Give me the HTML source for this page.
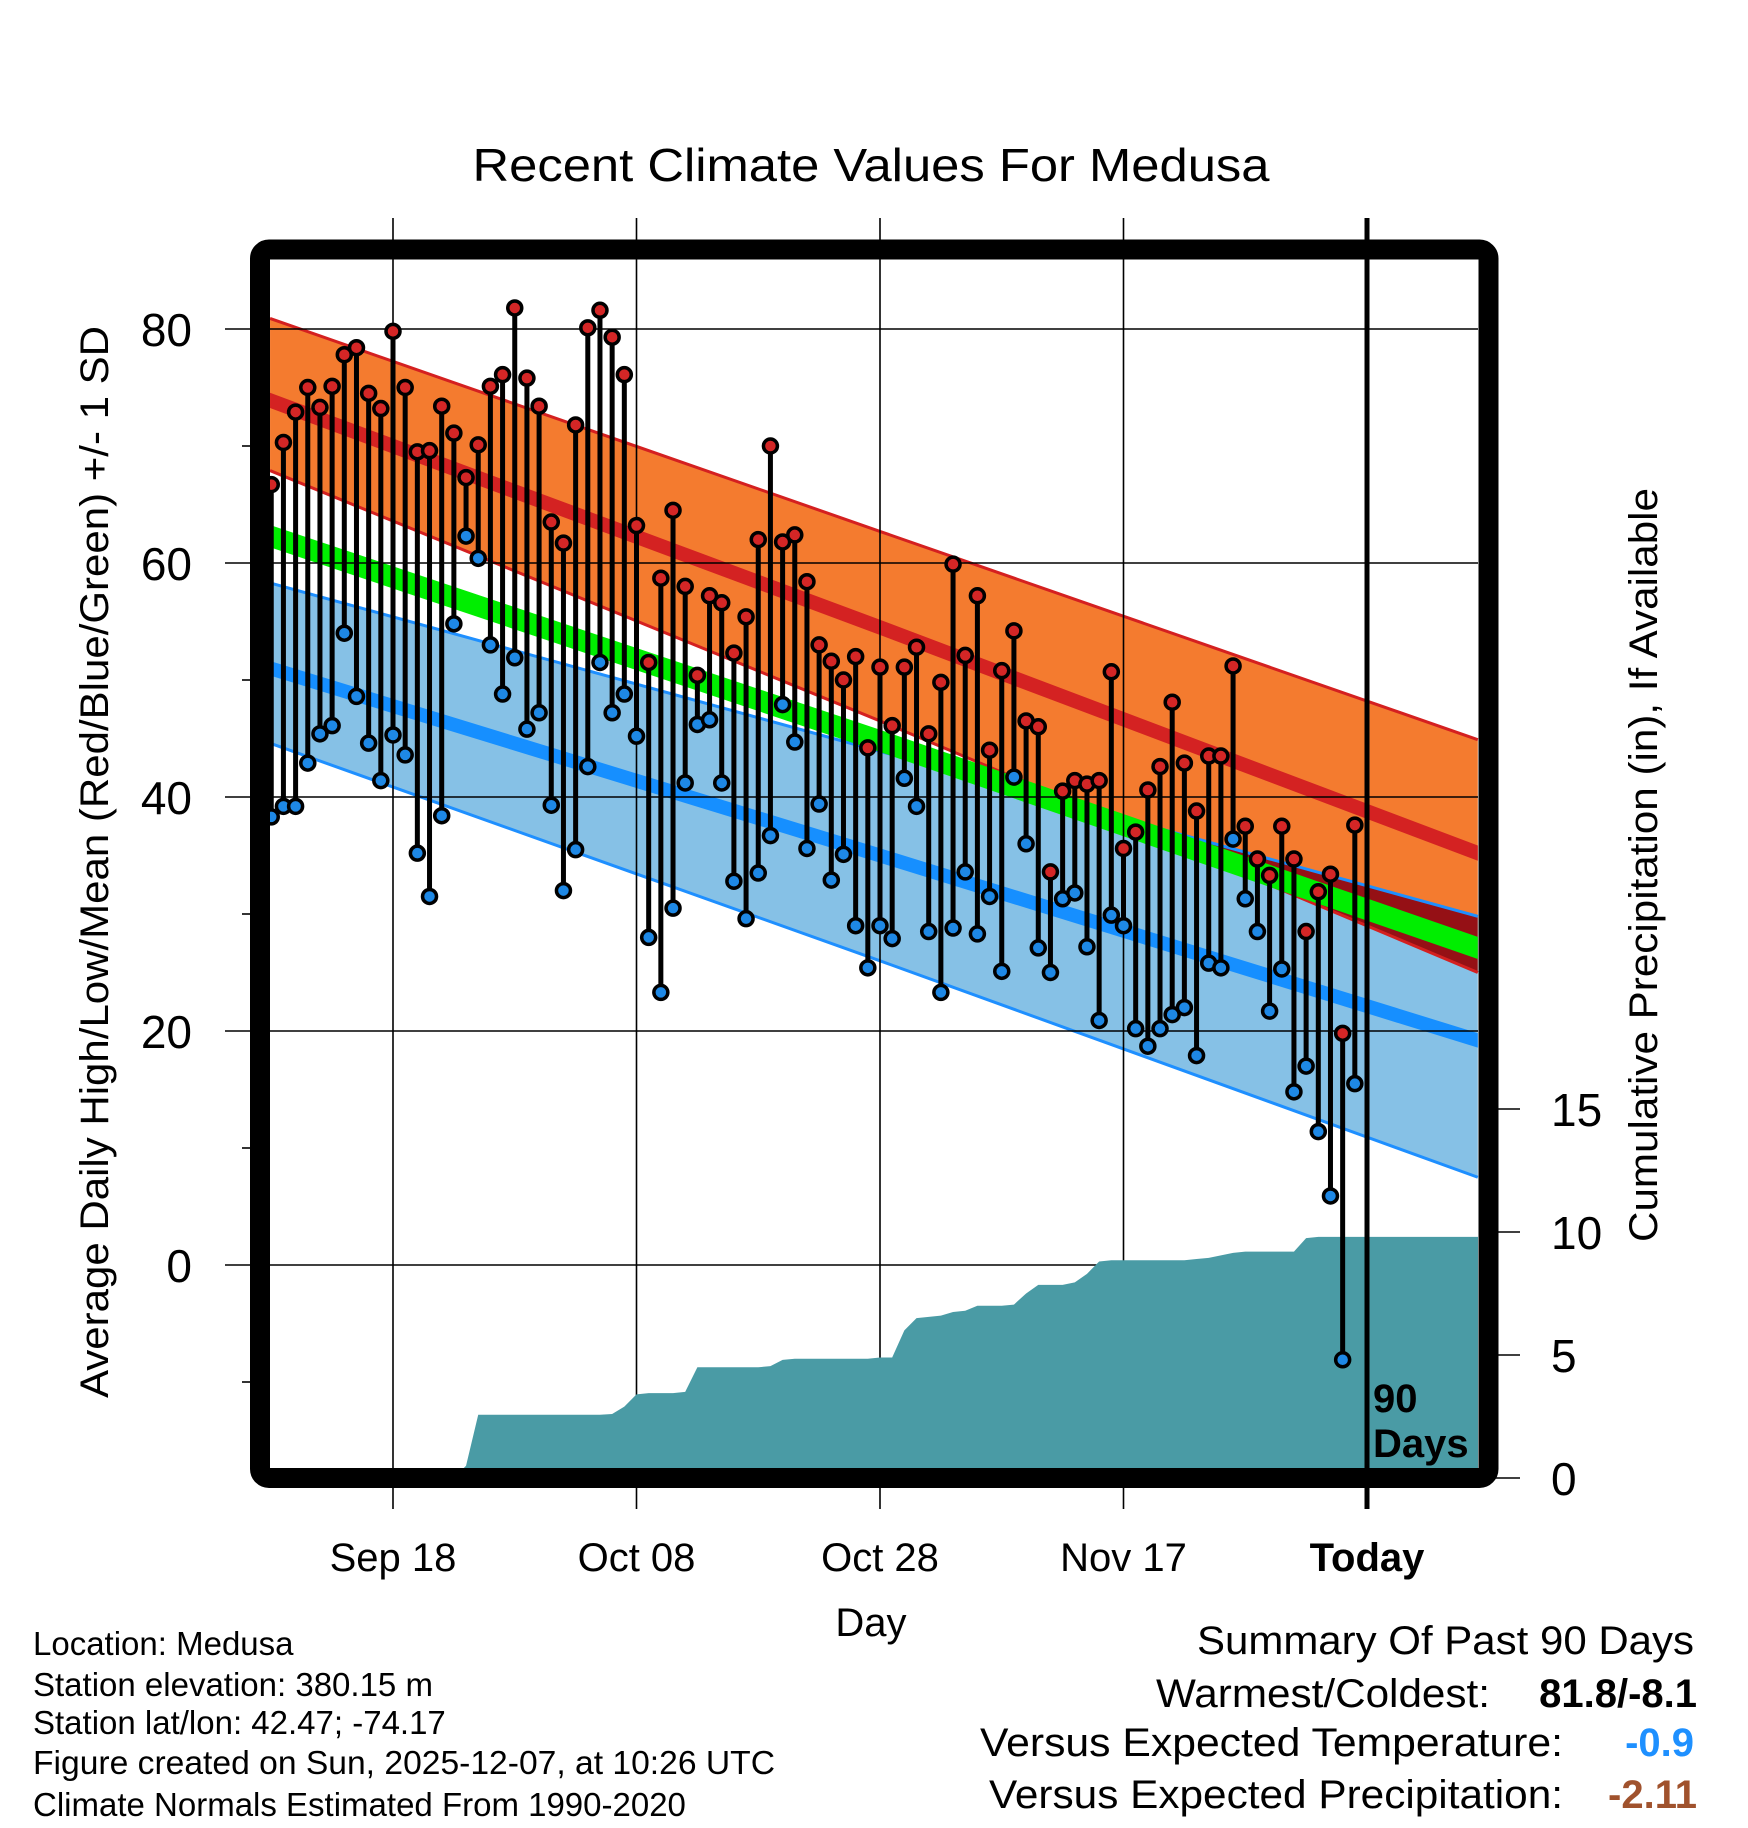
<!DOCTYPE html>
<html><head><meta charset="utf-8"><style>
html,body{margin:0;padding:0;background:#fff;}
svg{display:block;font-family:"Liberation Sans",sans-serif;}
</style></head><body>
<svg id="chart" width="1748" height="1828" viewBox="0 0 1748 1828" xmlns="http://www.w3.org/2000/svg">
<g id="bands"></g>
<g id="grid"></g>
<g id="precip"></g>
<g id="marks"></g>
<g id="axes"></g>
<text x="871" y="181" font-size="46" text-anchor="middle" textLength="797" lengthAdjust="spacingAndGlyphs">Recent Climate Values For Medusa</text>
<text transform="translate(108,862) rotate(-90)" font-size="40" text-anchor="middle" textLength="1072" lengthAdjust="spacingAndGlyphs">Average Daily High/Low/Mean (Red/Blue/Green) +/- 1 SD</text>
<text transform="translate(1657,865) rotate(-90)" font-size="40" text-anchor="middle" textLength="754" lengthAdjust="spacingAndGlyphs">Cumulative Precipitation (in), If Available</text>
<text x="871" y="1636" font-size="40" text-anchor="middle">Day</text>
<text x="1373" y="1412" font-size="40" font-weight="bold">90</text>
<text x="1373" y="1457" font-size="40" font-weight="bold">Days</text>
<g font-size="33">
<text x="33" y="1655">Location: Medusa</text>
<text x="33" y="1696">Station elevation: 380.15 m</text>
<text x="33" y="1734">Station lat/lon: 42.47; -74.17</text>
<text x="33" y="1774" textLength="742" lengthAdjust="spacingAndGlyphs">Figure created on Sun, 2025-12-07, at 10:26 UTC</text>
<text x="33" y="1816">Climate Normals Estimated From 1990-2020</text>
</g>
<g font-size="40">
<text x="1694" y="1654" text-anchor="end" textLength="497" lengthAdjust="spacingAndGlyphs">Summary Of Past 90 Days</text>
<text x="1490" y="1707" text-anchor="end" textLength="334" lengthAdjust="spacingAndGlyphs">Warmest/Coldest:</text>
<text x="1697" y="1707" text-anchor="end" font-weight="bold">81.8/-8.1</text>
<text x="1563" y="1756" text-anchor="end" textLength="583" lengthAdjust="spacingAndGlyphs">Versus Expected Temperature:</text>
<text x="1694" y="1756" text-anchor="end" font-weight="bold" fill="#1e90ff">-0.9</text>
<text x="1563" y="1808" text-anchor="end" textLength="574" lengthAdjust="spacingAndGlyphs">Versus Expected Precipitation:</text>
<text x="1697" y="1808" text-anchor="end" font-weight="bold" fill="#a0522d">-2.11</text>
</g>
</svg>
<script>
const highs=[66.7,70.3,72.9,75,73.3,75.1,77.8,78.4,74.5,73.2,79.8,75,69.5,69.6,73.4,71.1,67.3,70.1,75.1,76.1,81.8,75.8,73.4,63.5,61.7,71.8,80.1,81.6,79.3,76.1,63.2,51.5,58.7,64.5,58,50.4,57.2,56.6,52.3,55.4,62,70,61.8,62.4,58.4,53,51.6,50,52,44.2,51.1,46.1,51.1,52.8,45.4,49.8,59.9,52.1,57.2,44,50.8,54.2,46.5,46,33.6,40.5,41.4,41.1,41.4,50.7,35.6,37,40.6,42.6,48.1,42.9,38.8,43.5,43.5,51.2,37.5,34.7,33.3,37.5,34.7,28.5,31.9,33.4,19.8,37.6];
const lows=[38.3,39.2,39.2,42.9,45.4,46.1,54,48.6,44.6,41.4,45.3,43.6,35.2,31.5,38.4,54.8,62.3,60.4,53,48.8,51.9,45.8,47.2,39.3,32,35.5,42.6,51.5,47.2,48.8,45.2,28,23.3,30.5,41.2,46.2,46.6,41.2,32.8,29.6,33.5,36.7,47.9,44.7,35.6,39.4,32.9,35.1,29,25.4,29,27.9,41.6,39.2,28.5,23.3,28.8,33.6,28.3,31.5,25.1,41.7,36,27.1,25,31.3,31.8,27.2,20.9,29.9,29,20.2,18.7,20.2,21.4,22,17.9,25.8,25.4,36.4,31.3,28.5,21.7,25.3,14.8,17,11.4,5.9,-8.1,15.5];
const precip=[0,0,0,0,0,0,0,0,0,0,0,0,0,0,0,0,0.5,2.57,2.57,2.57,2.57,2.57,2.57,2.57,2.57,2.57,2.57,2.57,2.6,2.9,3.4,3.45,3.45,3.45,3.5,4.5,4.5,4.5,4.5,4.5,4.5,4.55,4.8,4.85,4.85,4.85,4.85,4.85,4.85,4.85,4.9,4.9,6.0,6.5,6.55,6.6,6.75,6.8,7.0,7.0,7.0,7.05,7.5,7.85,7.85,7.85,7.95,8.3,8.8,8.85,8.85,8.85,8.85,8.85,8.85,8.85,8.9,8.95,9.05,9.15,9.2,9.2,9.2,9.2,9.2,9.75,9.8,9.8,9.8,9.8];
const normDays=[-0.1,50,99.1];
const highPlusSD=[80.9,62.7,44.9];
const highMean=[73.9,54.5,35.2];
const highMinusSD=[67.9,46.5,25.0];
const meanTemp=[62.3,44.8,27.1];
const lowPlusSD=[58.3,43.9,29.8];
const lowMean=[51.0,35.0,19.2];
const lowMinusSD=[44.6,26.0,7.5];
const yTicks=[0,20,40,60,80];
const yMinor=[-10,10,30,50,70];
const pTicks=[0,5,10,15];
const xTickDays=[10,30,50,70,90];
const xTickLabels=["Sep 18","Oct 08","Oct 28","Nov 17","Today"];

const NS="http://www.w3.org/2000/svg";
const L=270,R=1478,T=260,B=1468;
function xs(d){return 393+(d-10)*12.175;}
function ys(v){return 1265-v*11.7;}
function yp(p){return 1478-p*24.6;}
function mk(tag,attrs,parent){const e=document.createElementNS(NS,tag);for(const k in attrs)e.setAttribute(k,attrs[k]);parent.appendChild(e);return e;}
const bands=document.getElementById('bands'),grid=document.getElementById('grid'),pg=document.getElementById('precip'),marks=document.getElementById('marks'),axes=document.getElementById('axes');

function pts(arr){return normDays.map((d,i)=>xs(d)+','+ys(arr[i]));}
function areaPts(top,bot){const a=pts(top),b=pts(bot).reverse();return a.concat(b).join(' ');}
function linePts(arr){return pts(arr).join(' ');}
function bandAround(arr,hw){return areaPts(arr.map(v=>v+hw),arr.map(v=>v-hw));}

let e;
e=mk('polygon',{points:areaPts(highPlusSD,highMinusSD),fill:'#f47b2f'},bands);

e=mk('polygon',{points:areaPts(lowPlusSD,lowMinusSD),fill:'#86c1e6'},bands);

{
  const clip=mk('clipPath',{id:'ovclip'},bands);
  mk('polygon',{points:areaPts(highPlusSD,highMinusSD)},clip);
  e=mk('polygon',{points:areaPts(lowPlusSD,lowMinusSD),fill:'#951015','clip-path':'url(#ovclip)'},bands);
  
}
e=mk('polyline',{points:linePts(highPlusSD),fill:'none',stroke:'#d42020','stroke-width':3},bands);

e=mk('polyline',{points:linePts(highMinusSD),fill:'none',stroke:'#d42020','stroke-width':3},bands);

e=mk('polyline',{points:linePts(lowPlusSD),fill:'none',stroke:'#1e8fff','stroke-width':3},bands);

e=mk('polyline',{points:linePts(lowMinusSD),fill:'none',stroke:'#1e8fff','stroke-width':3},bands);

e=mk('polygon',{points:bandAround(meanTemp,0.95),fill:'#00ee00'},bands);

e=mk('polygon',{points:bandAround(highMean,0.65),fill:'#d42222'},bands);

e=mk('polygon',{points:bandAround(lowMean,0.62),fill:'#168fff'},bands);


yTicks.forEach(v=>{
  e=mk('line',{x1:225,x2:R,y1:ys(v),y2:ys(v),stroke:'#000','stroke-width':1.6},grid);
  
  e=mk('text',{x:192,y:ys(v)+17,'font-size':46,'text-anchor':'end'},axes);e.textContent=v;
  
});
yMinor.forEach(v=>{
  e=mk('line',{x1:242,x2:252,y1:ys(v),y2:ys(v),stroke:'#000','stroke-width':1.6},axes);
  
});
xTickDays.forEach((d,i)=>{
  const today=i===xTickDays.length-1;
  e=mk('line',{x1:xs(d),x2:xs(d),y1:218,y2:1509,stroke:'#000','stroke-width':today?5:1.6},today?marks:grid);
  
  e=mk('text',{x:xs(d),y:1571,'font-size':40,'text-anchor':'middle','font-weight':today?'bold':'normal'},axes);e.textContent=xTickLabels[i];
  
});
pTicks.forEach(p=>{
  e=mk('line',{x1:1495,x2:1520,y1:yp(p),y2:yp(p),stroke:'#000','stroke-width':1.6},axes);
  
  e=mk('text',{x:1551,y:yp(p)+17,'font-size':46},axes);e.textContent=p;
  
});

{
  let s=[];s.push(L+','+B);s.push(L+','+yp(precip[0]));
  precip.forEach((p,i)=>s.push(xs(i)+','+yp(p)));
  s.push(R+','+yp(precip[precip.length-1]));s.push(R+','+B);
  e=mk('polygon',{points:s.join(' '),fill:'#4a9ba5'},pg);
  
}

highs.forEach((h,i)=>{
  const x=xs(i);
  e=mk('line',{x1:x,x2:x,y1:ys(h),y2:ys(lows[i]),stroke:'#000','stroke-width':5},marks);
  
});
highs.forEach((h,i)=>{
  const x=xs(i);
  e=mk('circle',{cx:x,cy:ys(lows[i]),r:7,fill:'#1e88e5',stroke:'#000','stroke-width':3.5},marks);
  
  e=mk('circle',{cx:x,cy:ys(h),r:7,fill:'#d42626',stroke:'#000','stroke-width':3.5},marks);
  
});

e=mk('rect',{x:260,y:249.5,width:1228.5,height:1228.5,rx:9,fill:'none',stroke:'#000','stroke-width':20},axes);

</script>
</body></html>
